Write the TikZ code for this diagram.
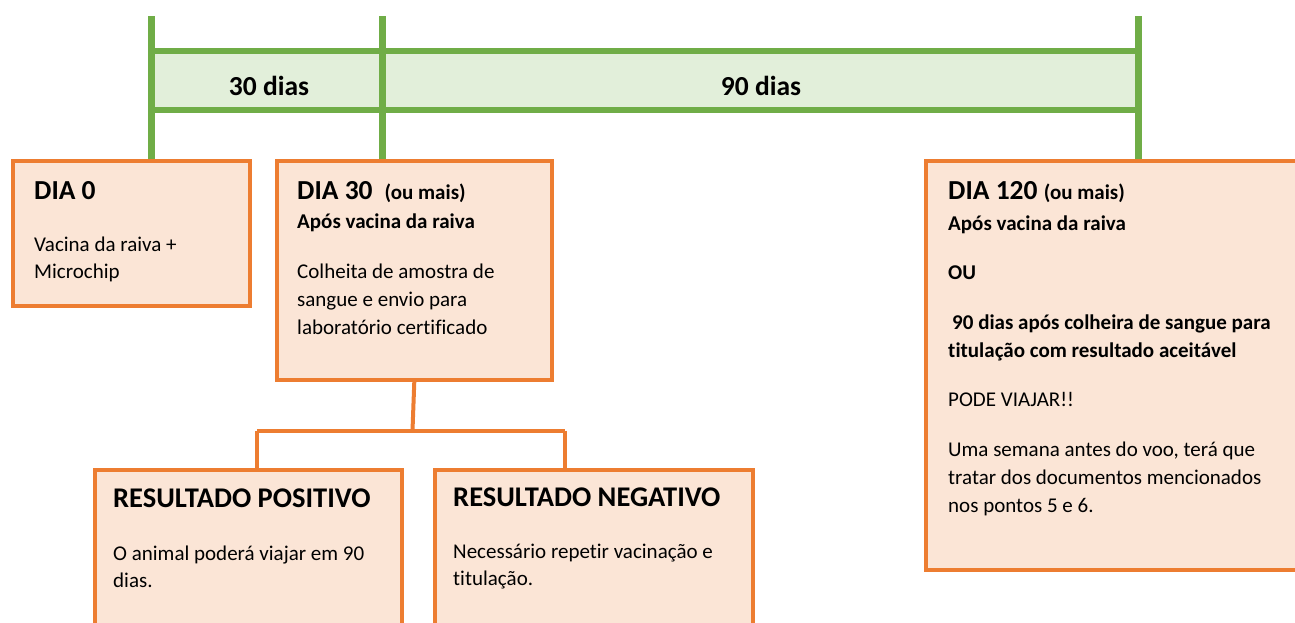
\documentclass[tikz,border=0pt]{standalone}
\usepackage{fontspec}
\setmainfont{Carlito}[Ligatures=NoCommon]
\definecolor{gline}{HTML}{70AD47}
\definecolor{gfill}{HTML}{E2EFDA}
\definecolor{oline}{HTML}{ED7D31}
\definecolor{ofill}{HTML}{FBE5D6}
\tikzset{
  box/.style={draw=oline, fill=ofill, line width=3.6pt, inner sep=0pt, anchor=north west},
  conn/.style={draw=oline, line width=4pt},
  tick/.style={draw=gline, line width=7pt},
  band/.style={draw=gline, line width=5.5pt},
  txt/.style={anchor=base west, inner sep=0pt, font=\fontsize{21}{28}\selectfont},
  btxt/.style={txt, font=\fontsize{21}{28}\selectfont\bfseries},
  ttl/.style={anchor=base west, inner sep=0pt, font=\fontsize{27.5}{32}\selectfont\bfseries},
  rtl/.style={anchor=base west, inner sep=0pt, font=\fontsize{28.5}{32}\selectfont\bfseries},
  lbl/.style={anchor=base, inner sep=0pt, font=\fontsize{27.5}{32}\selectfont\bfseries},
}
\begin{document}
\begin{tikzpicture}[x=1pt,y=-1pt]
\useasboundingbox (0,0) rectangle (1295,622);
% timeline band
\fill[gfill] (151,51) rectangle (1138,110);
\draw[band] (151,51) -- (1138,51);
\draw[band] (151,110) -- (1138,110);
\node[lbl] (l30) at (269,95) {30 dias};
\node[lbl] (l90) at (761,95) {90 dias};
% boxes
\node[box, minimum width=237pt, minimum height=145pt] (d0) at (11,159) {};
\node[box, minimum width=275pt, minimum height=219pt] (d30) at (275,159) {};
\node[box, minimum width=380pt, minimum height=409pt] (d120) at (924,159) {};
\node[box, minimum width=307pt, minimum height=190pt] (pos) at (93,468) {};
\node[box, minimum width=318pt, minimum height=190pt] (neg) at (433,468) {};
% timeline ticks
\coordinate (t0) at (151.5,16);
\coordinate (t30) at (382,16);
\coordinate (t120) at (1138.5,16);
\draw[tick] (t0) -- (t0 |- d0.north);
\draw[tick] (t30) -- (t30 |- d30.north);
\draw[tick] (t120) -- (t120 |- d120.north);
% tree
\coordinate (split) at (412.5,430.5);
\coordinate (pl) at (257,430.5);
\coordinate (nr) at (565,430.5);
\draw[conn] (d30.south) -- (split);
\draw[conn] (pl) -- (nr);
\draw[conn] (pl) -- (pl |- pos.north);
\draw[conn] (nr) -- (nr |- neg.north);
% DIA 0 text
\node[ttl] (a1) at (34,199) {DIA 0};
\node[txt] (a2) at (34,251) {Vacina da raiva +};
\node[txt] (a3) at (34,278) {Microchip};
% DIA 30 text
\node[ttl] (b1) at (297,199) {DIA 30\hspace{12pt}{\fontsize{21}{28}\selectfont(ou mais)}};
\node[btxt] (b2) at (297,228) {Após vacina da raiva};
\node[txt] (b3) at (297,278) {Colheita de amostra de};
\node[txt] (b4) at (297,306) {sangue e envio para};
\node[txt] (b5) at (297,334) {laboratório certificado};
% DIA 120 text
\node[ttl] (c1) at (948,199) {DIA 120 {\fontsize{21}{28}\selectfont(ou mais)}};
\node[btxt] (c2) at (948,230) {Após vacina da raiva};
\node[btxt] (c3) at (948,279) {OU};
\node[btxt] (c4) at (952,329) {90 dias após colheira de sangue para};
\node[btxt] (c5) at (948,357) {titulação com resultado aceitável};
\node[txt] (c6) at (948,406) {PODE VIAJAR!!};
\node[txt] (c7) at (948,456) {Uma semana antes do voo, terá que};
\node[txt] (c8) at (948,484) {tratar dos documentos mencionados};
\node[txt] (c9) at (948,512) {nos pontos 5 e 6.};
% positive
\node[rtl] (p1) at (113,507) {RESULTADO POSITIVO};
\node[txt] (p2) at (113,560) {O animal poderá viajar em 90};
\node[txt] (p3) at (113,587) {dias.};
% negative
\node[rtl] (n1) at (453,506) {RESULTADO NEGATIVO};
\node[txt] (n2) at (453,558) {Necessário repetir vacinação e};
\node[txt] (n3) at (453,585) {titulação.};
\end{tikzpicture}
\end{document}
